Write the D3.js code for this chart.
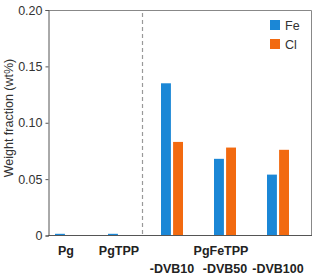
<!DOCTYPE html>
<meta charset="utf-8">
<script src="https://d3js.org/d3.v7.min.js"></script>
<style>
  body { margin: 0; background: #fff; }
  text { font-family: "Liberation Sans", Arial, sans-serif; }
</style>
<div id="chart"></div>

<script>

    // samples and measured weight fractions (wt%)
    const samples = ["Pg", "PgTPP", "-DVB10", "-DVB50", "-DVB100"];
    const elements = ["Fe", "Cl"];
    const feValues = [0.0015, 0.0015, 0.135, 0.068, 0.054];
    const clValues = [0, 0, 0.083, 0.078, 0.076];
    const yTicks = [0, 0.05, 0.10, 0.15, 0.20];
    const groupLabel = "PgFeTPP";

    const colors = {Fe: "#1b87d6", Cl: "#f26a10"};

    const width = 315, height = 279;
    const margin = {top: 10, right: 3, bottom: 44, left: 48};

    const data = samples.map((s, i) => ({sample: s, Fe: feValues[i], Cl: clValues[i]}));

    const svg = d3.select("#chart")
        .append("svg")
        .attr("width", width)
        .attr("height", height);

    const x = d3.scalePoint()
        .domain(samples)
        .range([66, 278]);

    const x1 = d3.scaleBand()
        .domain(elements)
        .range([-11, 11])
        .paddingInner(0.18);

    const y = d3.scaleLinear()
        .domain([0, 0.2])
        .range([height - margin.bottom + 0.5, margin.top]);

    // frame (top and right)
    svg.append("path")
        .attr("d", `M${margin.left},${margin.top + 0.5}H${width - margin.right - 0.5}V${y(0)}`)
        .attr("fill", "none")
        .attr("stroke", "#888")
        .attr("stroke-width", 1);

    // dashed divider
    svg.append("line")
        .attr("x1", 142.5).attr("x2", 142.5)
        .attr("y1", margin.top + 3).attr("y2", y(0))
        .attr("stroke", "#999")
        .attr("stroke-width", 1.2)
        .attr("stroke-dasharray", "4,3");

    // bars
    svg.append("g")
        .selectAll("g")
        .data(data)
        .join("g")
        .attr("transform", d => `translate(${x(d.sample)},0)`)
        .selectAll("rect")
        .data(d => elements.map(k => ({key: k, value: d[k]})))
        .join("rect")
        .attr("x", d => x1(d.key))
        .attr("width", x1.bandwidth())
        .attr("y", d => y(d.value))
        .attr("height", d => y(0) - y(d.value))
        .attr("fill", d => colors[d.key]);

    // y axis
    const yAxis = svg.append("g")
        .attr("transform", `translate(${margin.left + 0.5},0)`)
        .call(d3.axisLeft(y)
            .tickValues(yTicks)
            .tickSize(3)
            .tickPadding(3)
            .tickFormat(d => d === 0 ? "0" : d3.format(".2f")(d)));
    yAxis.select(".domain").attr("stroke", "#555");
    yAxis.selectAll(".tick line").attr("stroke", "#555");
    yAxis.selectAll(".tick text")
        .attr("fill", "#333")
        .style("font-size", "12.5px")
        .style("font-family", "Liberation Sans, Arial, sans-serif");

    // x axis (line only)
    svg.append("line")
        .attr("x1", margin.left).attr("x2", width - margin.right)
        .attr("y1", y(0)).attr("y2", y(0))
        .attr("stroke", "#555");

    // x labels
    svg.append("g")
        .selectAll("text")
        .data(samples)
        .join("text")
        .attr("x", d => x(d))
        .attr("y", (d, i) => i < 2 ? 255 : 273)
        .attr("text-anchor", "middle")
        .attr("font-size", "12.5px")
        .attr("font-weight", "bold")
        .attr("fill", "#222")
        .text(d => d);

    svg.append("text")
        .attr("x", x("-DVB50") - 4)
        .attr("y", 255)
        .attr("text-anchor", "middle")
        .attr("font-size", "12.5px")
        .attr("font-weight", "bold")
        .attr("fill", "#222")
        .text(groupLabel);

    // y label
    svg.append("text")
        .attr("transform", `translate(12.5,118) rotate(-90)`)
        .attr("text-anchor", "middle")
        .attr("font-size", "12.5px")
        .attr("fill", "#333")
        .text("Weight fraction (wt%)");

    // legend
    const legend = svg.append("g")
        .selectAll("g")
        .data(elements)
        .join("g")
        .attr("transform", (d, i) => `translate(270,${20 + i * 19})`);
    legend.append("rect")
        .attr("width", 10)
        .attr("height", 10)
        .attr("fill", d => colors[d]);
    legend.append("text")
        .attr("x", 15)
        .attr("y", 9.5)
        .attr("font-size", "12.5px")
        .attr("fill", "#333")
        .text(d => d);

</script>
